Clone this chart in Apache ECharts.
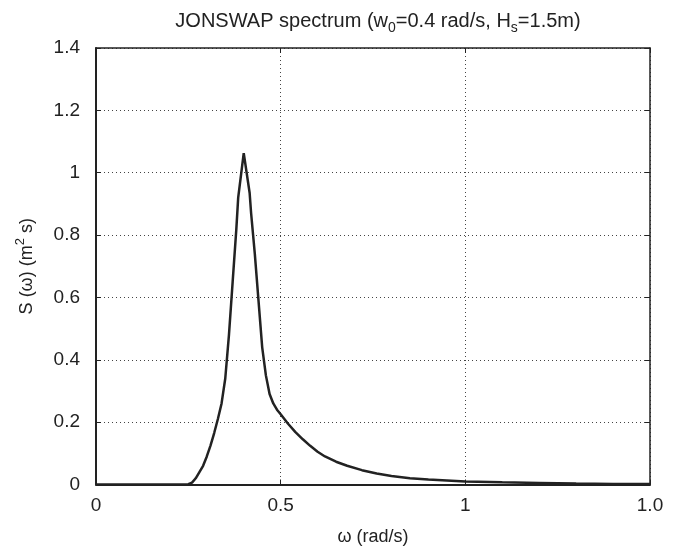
<!DOCTYPE html>
<html>
<head>
<meta charset="utf-8">
<script src="https://cdn.jsdelivr.net/npm/echarts@6/dist/echarts.min.js"></script>
<style>
html,body{margin:0;padding:0;background:#fff;}
#chart{width:681px;height:552px;}
</style>
</head>
<body>
<div id="chart"></div>
<script>
// Frequency (rad/s)
var omega = [0, 0.1, 0.2, 0.24, 0.25, 0.26, 0.27, 0.28, 0.29, 0.30, 0.31, 0.32, 0.33, 0.34, 0.35, 0.36, 0.37, 0.38, 0.385, 0.40, 0.416, 0.42, 0.43, 0.44, 0.45, 0.46, 0.47, 0.48, 0.49, 0.50, 0.52, 0.54, 0.56, 0.58, 0.60, 0.62, 0.65, 0.68, 0.72, 0.76, 0.80, 0.85, 0.90, 0.95, 1.0, 1.1, 1.2, 1.3, 1.4, 1.5];
// Spectral density S(omega) (m^2 s)
var spectrum = [0, 0, 0, 0, 0.001, 0.006, 0.02, 0.04, 0.06, 0.09, 0.125, 0.165, 0.21, 0.26, 0.34, 0.48, 0.65, 0.82, 0.92, 1.063, 0.935, 0.87, 0.74, 0.59, 0.44, 0.35, 0.29, 0.26, 0.24, 0.225, 0.195, 0.168, 0.145, 0.124, 0.105, 0.09, 0.073, 0.06, 0.046, 0.035, 0.027, 0.02, 0.016, 0.013, 0.010, 0.007, 0.005, 0.003, 0.002, 0.0015];
// Tick labels as printed on the x axis
var xTickValues = [0, 0.5, 1, 1.5];
var xTickLabels = ['0', '0.5', '1', '1.0'];

var FONT = '"Liberation Sans", Arial, Helvetica, sans-serif';
var INK = '#222';

var data = omega.map(function (w, i) { return [w, spectrum[i]]; });

var chart = echarts.init(document.getElementById('chart'), null, {renderer: 'canvas'});
var tickStyle = {show: true, inside: true, length: 5, lineStyle: {color: INK, width: 1}};
var gridStyle = {show: true, lineStyle: {color: '#444', width: 1, type: [1, 3]}};

chart.setOption({
  animation: false,
  backgroundColor: '#fff',
  title: {
    text: '{a|JONSWAP spectrum (w}{s|0}{a|=0.4 rad/s, H}{s|s}{a|=1.5m)}',
    left: 373,
    top: 8,
    textAlign: 'center',
    textStyle: {
      fontFamily: FONT, fontWeight: 'normal',
      rich: {
        a: {fontFamily: FONT, fontWeight: 'normal', fontSize: 20, color: INK, lineHeight: 22, verticalAlign: 'bottom', padding: [0, 0, 4, 0]},
        s: {fontFamily: FONT, fontWeight: 'normal', fontSize: 14, color: INK, lineHeight: 14, verticalAlign: 'bottom', padding: [12, 0, 0, 0]}
      }
    }
  },
  grid: {left: 96, right: 31, top: 48, bottom: 67.5, containLabel: false},
  xAxis: [{
    type: 'value', position: 'bottom', min: 0, max: 1.5, interval: 0.5,
    name: 'ω (rad/s)', nameLocation: 'middle', nameGap: 44,
    nameTextStyle: {fontFamily: FONT, fontSize: 18, color: INK},
    axisLine: {show: true, lineStyle: {color: INK, width: 2}},
    axisTick: tickStyle,
    axisLabel: {
      fontFamily: FONT, fontSize: 19, color: INK, margin: 12,
      formatter: function (v) {
        for (var i = 0; i < xTickValues.length; i++) {
          if (Math.abs(v - xTickValues[i]) < 1e-9) return xTickLabels[i];
        }
        return '';
      }
    },
    splitLine: gridStyle
  }, {
    type: 'value', position: 'top', min: 0, max: 1.5, interval: 0.5,
    axisLine: {show: true, onZero: false, lineStyle: {color: INK, width: 1.5}},
    axisTick: tickStyle, axisLabel: {show: false}, splitLine: {show: false}
  }],
  yAxis: [{
    type: 'value', position: 'left', min: 0, max: 1.4, interval: 0.2,
    name: '{n|S (ω) (m}{p|2}{n| s)}', nameLocation: 'middle', nameGap: 60,
    nameTextStyle: {
      fontFamily: FONT, fontSize: 18, color: INK,
      rich: {
        n: {fontFamily: FONT, fontSize: 18, color: INK, lineHeight: 22, verticalAlign: 'bottom'},
        p: {fontFamily: FONT, fontSize: 13, color: INK, lineHeight: 14, verticalAlign: 'bottom', padding: [0, 0, 9, 0]}
      }
    },
    axisLine: {show: true, onZero: false, lineStyle: {color: INK, width: 2}},
    axisTick: tickStyle,
    axisLabel: {fontFamily: FONT, fontSize: 19, color: INK, margin: 16},
    splitLine: gridStyle
  }, {
    type: 'value', position: 'right', min: 0, max: 1.4, interval: 0.2,
    axisLine: {show: true, onZero: false, lineStyle: {color: INK, width: 1.5}},
    axisTick: tickStyle, axisLabel: {show: false}, splitLine: {show: false}
  }],
  series: [{
    type: 'line', xAxisIndex: 0, yAxisIndex: 0,
    data: data, showSymbol: false, symbol: 'none', smooth: false,
    lineStyle: {color: INK, width: 2.5}
  }]
});
</script>
</body>
</html>
